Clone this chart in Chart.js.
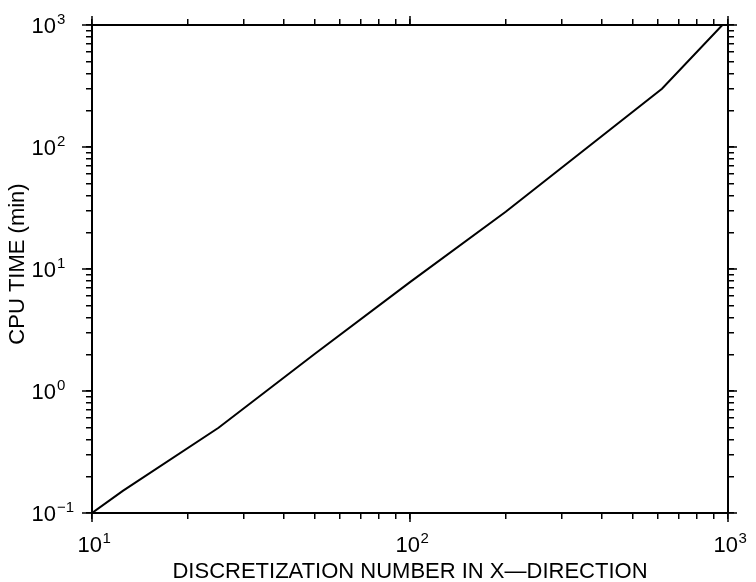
<!DOCTYPE html>
<html><head><meta charset="utf-8">
<script src="https://cdn.jsdelivr.net/npm/chart.js@4"></script>
<style>html,body{margin:0;padding:0;background:#fff}#wrap{width:756px;height:582px}</style>
</head><body><div id="wrap"><canvas id="c" width="756" height="582"></canvas></div>
<script>
// ---- data ----
const discretizationN = [10, 12.5, 25, 50, 100, 200, 620, 960];
const cpuTimeMin      = [0.1, 0.152, 0.5, 2.0, 7.8, 29.5, 300, 1000];
const xTickValues = [10, 100, 1000];
const xTickLabels = ['10^1', '10^2', '10^3'];
const yTickValues = [0.1, 1, 10, 100, 1000];
const yTickLabels = ['10^-1', '10^0', '10^1', '10^2', '10^3'];
const xTitle = 'DISCRETIZATION NUMBER IN X\u2014DIRECTION';
const yTitle = 'CPU TIME (min)';

const FONT = "'Liberation Sans', Arial, sans-serif";

function logTicks(min, max) {
  const out = [];
  for (let e = Math.round(Math.log10(min)); e <= Math.round(Math.log10(max)); e++) {
    for (let d = 1; d <= 9; d++) {
      const v = d * Math.pow(10, e);
      if (v >= min * 0.999 && v <= max * 1.001) out.push({ value: v });
    }
  }
  return out;
}

function axisCfg(axis, position, min, max, fit) {
  return {
    type: 'logarithmic', axis: axis, position: position, min: min, max: max,
    afterBuildTicks: s => { s.ticks = logTicks(min, max); },
    afterFit: fit,
    ticks: { display: false },
    grid: { drawOnChartArea: false, drawTicks: true, tickLength: 6, color: '#000', lineWidth: 1.5 },
    border: { display: true, color: '#000', width: 2 }
  };
}

const decorPlugin = {
  id: 'decor',
  afterDraw(chart) {
    const ctx = chart.ctx, ca = chart.chartArea;
    const xs = chart.scales.x, ys = chart.scales.y;
    ctx.save();
    ctx.strokeStyle = '#000';
    ctx.lineWidth = 1.5;
    ctx.beginPath();
    xTickValues.forEach(v => {
      const px = xs.getPixelForValue(v);
      ctx.moveTo(px, ca.bottom); ctx.lineTo(px, ca.bottom + 9);
      ctx.moveTo(px, ca.top); ctx.lineTo(px, ca.top - 9);
    });
    yTickValues.forEach(v => {
      const py = ys.getPixelForValue(v);
      ctx.moveTo(ca.left - 10, py); ctx.lineTo(ca.left, py);
      ctx.moveTo(ca.right, py); ctx.lineTo(ca.right + 9, py);
    });
    ctx.stroke();

    ctx.fillStyle = '#000';
    ctx.textBaseline = 'alphabetic';
    const baseFont = '22px ' + FONT, supFont = '15px ' + FONT;
    const split = s => { const p = s.split('^'); return [p[0], p[1].replace('-', '\u2212')]; };

    // x tick labels
    xTickLabels.forEach((lab, i) => {
      const [b, e] = split(lab);
      const px = xs.getPixelForValue(xTickValues[i]);
      ctx.font = baseFont; const wb = ctx.measureText(b).width;
      ctx.font = supFont; const we = ctx.measureText(e).width;
      const x0 = px - (wb + we) / 2 + 2;
      ctx.font = baseFont; ctx.textAlign = 'left'; ctx.fillText(b, x0, 552);
      ctx.font = supFont; ctx.fillText(e, x0 + wb + 0.5, 543);
    });
    // y tick labels
    yTickLabels.forEach((lab, i) => {
      const [b, e] = split(lab);
      const py = ys.getPixelForValue(yTickValues[i]);
      ctx.font = baseFont; ctx.textAlign = 'right'; ctx.fillText(b, 56, py + 8);
      ctx.font = supFont; ctx.textAlign = 'left'; ctx.fillText(e, 57, py - 1);
    });

    // axis titles
    ctx.font = '22px ' + FONT;
    ctx.textAlign = 'center';
    ctx.fillText(xTitle, (ca.left + ca.right) / 2, 578);
    ctx.save();
    ctx.translate(24, 264);
    ctx.rotate(-Math.PI / 2);
    ctx.fillText(yTitle, 0, 0);
    ctx.restore();
    ctx.restore();
  }
};

new Chart(document.getElementById('c'), {
  type: 'line',
  data: {
    datasets: [{
      data: discretizationN.map((n, i) => ({ x: n, y: cpuTimeMin[i] })),
      borderColor: '#000', borderWidth: 2, pointRadius: 0, tension: 0, fill: false
    }]
  },
  options: {
    responsive: false, animation: false, devicePixelRatio: 1,
    layout: { padding: 0 },
    plugins: { legend: { display: false }, tooltip: { enabled: false }, title: { display: false } },
    scales: {
      x: axisCfg('x', 'bottom', 10, 1000, s => { s.height = 69; }),
      x2: axisCfg('x', 'top', 10, 1000, s => { s.height = 25; }),
      y: axisCfg('y', 'left', 0.1, 1000, s => { s.width = 92; }),
      y2: axisCfg('y', 'right', 0.1, 1000, s => { s.width = 28; })
    }
  },
  plugins: [decorPlugin]
});
</script>
</body></html>
